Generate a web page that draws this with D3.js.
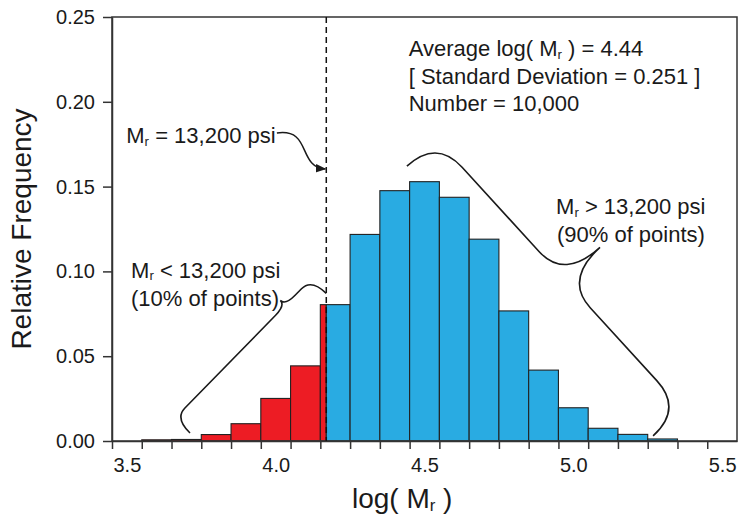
<!DOCTYPE html>
<html>
<head>
<meta charset="utf-8">
<script src="https://cdn.jsdelivr.net/npm/d3@7"></script>
<style>
  body { margin: 0; background: #fff; }
  svg text { font-family: "Liberation Sans", Arial, sans-serif; fill: #1a1a1a; }
</style>
</head>
<body>
<svg id="chart" width="740" height="525"></svg>
<script>
"use strict"

// histogram bins (centre of each 0.1 wide bin) and relative frequency
const binCenters = [3.6, 3.7, 3.8, 3.9, 4.0, 4.1, 4.2, 4.3, 4.4, 4.5, 4.6, 4.7, 4.8, 4.9, 5.0, 5.1, 5.2, 5.3];
const relFreq = [0.0007, 0.0009, 0.0038, 0.0102, 0.0251, 0.0443, 0.0804, 0.1218, 0.1476, 0.1529, 0.1437, 0.1190, 0.0767, 0.0418, 0.0196, 0.0075, 0.0039, 0.0012];
const binWidth = 0.1;
const threshold = 4.17;   // Mr = 13,200 psi
const yTicks = [0, 0.05, 0.10, 0.15, 0.20, 0.25];
const xLabels = [3.5, 4.0, 4.5, 5.0, 5.5];
const statLines = ["Average log( M|r| ) = 4.44", "[ Standard Deviation = 0.251 ]", "Number = 10,000"];

const svg = d3.select("#chart");
const margin = { top: 17, right: 3, bottom: 84, left: 112 };
const width = +svg.attr("width");
const height = +svg.attr("height");

let x = d3.scaleLinear().domain([3.45, 5.55]).range([margin.left, width - margin.right]);
let y = d3.scaleLinear().domain([0, 0.25]).range([height - margin.bottom, margin.top]);

// split bins at the threshold -> red below, blue above
let segs = [];
binCenters.forEach(function (c, i) {
    let x0 = c - binWidth / 2, x1 = c + binWidth / 2;
    if (x1 <= threshold) segs.push({ x0: x0, x1: x1, v: relFreq[i], low: true });
    else if (x0 >= threshold) segs.push({ x0: x0, x1: x1, v: relFreq[i], low: false });
    else {
        segs.push({ x0: x0, x1: threshold, v: relFreq[i], low: true });
        segs.push({ x0: threshold, x1: x1, v: relFreq[i], low: false });
    }
});

svg.append("g").selectAll("rect")
    .data(segs)
    .enter().append("rect")
    .attr("x", function (d) { return x(d.x0); })
    .attr("y", function (d) { return y(d.v); })
    .attr("width", function (d) { return x(d.x1) - x(d.x0); })
    .attr("height", function (d) { return y(0) - y(d.v); })
    .attr("fill", function (d) { return d.low ? "#ed1c24" : "#29abe2"; })
    .attr("stroke", "#222")
    .attr("stroke-width", 1.1);

// frame
svg.append("rect")
    .attr("x", x(3.45)).attr("y", y(0.25))
    .attr("width", x(5.55) - x(3.45)).attr("height", y(0) - y(0.25))
    .attr("fill", "none").attr("stroke", "#333").attr("stroke-width", 1.5);

// axes
let edges = d3.range(3.45, 5.46, 0.1);
let xAxis = svg.append("g")
    .attr("transform", "translate(0," + y(0) + ")")
    .call(d3.axisBottom(x).tickValues(edges).tickFormat("").tickSize(8).tickSizeOuter(0));
let xLab = svg.append("g")
    .attr("transform", "translate(0," + y(0) + ")")
    .call(d3.axisBottom(x).tickValues(xLabels).tickFormat(d3.format(".1f")).tickSize(0).tickPadding(17));
xLab.select(".domain").remove();
let yAxis = svg.append("g")
    .attr("transform", "translate(" + x(3.45) + ",0)")
    .call(d3.axisLeft(y).tickValues(yTicks).tickFormat(d3.format(".2f")).tickSize(9).tickSizeOuter(0).tickPadding(8));

[xAxis, yAxis].forEach(function (g) {
    g.selectAll("path, line").attr("stroke", "#333").attr("stroke-width", 1.5);
});
svg.selectAll(".tick text").attr("font-size", 20).attr("fill", "#1a1a1a")
    .style("font-family", "'Liberation Sans', Arial, sans-serif");

// threshold line
svg.append("line")
    .attr("x1", x(threshold)).attr("x2", x(threshold))
    .attr("y1", y(0.25)).attr("y2", y(0))
    .attr("stroke", "#111").attr("stroke-width", 1.5)
    .attr("stroke-dasharray", "6,4");

// text with "M|r|" style subscripts
function richText(sel, str) {
    let parts = str.split("|");
    parts.forEach(function (p, i) {
        if (i % 2 === 1) {
            sel.append("tspan").attr("font-size", "0.6em").attr("dy", "0.2em").text(p);
        } else {
            let t = sel.append("tspan").text(p);
            if (i > 0) t.attr("dy", "-0.12em");
        }
    });
}

function label(px, py, str, size, anchor) {
    let t = svg.append("text")
        .attr("x", px).attr("y", py)
        .attr("font-size", size)
        .attr("text-anchor", anchor || "start");
    richText(t, str);
    return t;
}

statLines.forEach(function (s, i) {
    label(x(4.447), y(0.25) + 39 + i * 27.5, s, 22);
});
label(x(3.498), y(0.1757), "M|r| = 13,200 psi", 22);
label(x(3.514), y(0.0962), "M|r| < 13,200 psi", 22);
label(x(3.514), y(0.0795), "(10% of points)", 22);
label(x(4.942), y(0.1338), "M|r| > 13,200 psi", 22);
label(x(4.945), y(0.1173), "(90% of points)", 22);

// axis titles
let xt = svg.append("text")
    .attr("x", x(4.425)).attr("y", height - 17)
    .attr("font-size", 28).attr("text-anchor", "middle");
richText(xt, "log( M|r| )");

svg.append("text")
    .attr("transform", "translate(31," + y(0.125) + ") rotate(-90)")
    .attr("font-size", 28).attr("text-anchor", "middle")
    .text("Relative Frequency");

// curly braces, given ends in data units
function bracePath(a, b, h, h2, tipU, r) {
    let ax = x(a[0]), ay = y(a[1]), bx = x(b[0]), by = y(b[1]);
    let L = Math.hypot(bx - ax, by - ay);
    let ux = (bx - ax) / L, uy = (by - ay) / L;
    let nx = uy, ny = -ux;
    function p(u, v) { return [ax + ux * u + nx * v, ay + uy * u + ny * v].map(function (d) { return d.toFixed(1); }).join(","); }
    return "M" + p(0, 0) +
        "Q" + p(0, h) + " " + p(r, h) +
        "L" + p(tipU - r, h) +
        "Q" + p(tipU, h) + " " + p(tipU, h2) +
        "Q" + p(tipU, h) + " " + p(tipU + r, h) +
        "L" + p(L - r, h) +
        "Q" + p(L, h) + " " + p(L, 0);
}

svg.append("path")
    .attr("d", bracePath([3.712, 0.0047], [threshold, 0.087], 21, 28, 158, 14))
    .attr("fill", "none").attr("stroke", "#1a1a1a").attr("stroke-width", 1.6);

svg.append("path")
    .attr("d", bracePath([4.441, 0.162], [5.268, 0.003], 40, 88, 190, 38))
    .attr("fill", "none").attr("stroke", "#1a1a1a").attr("stroke-width", 1.6);

// pointer arrow to the threshold line
svg.append("defs").append("marker")
    .attr("id", "arrow")
    .attr("viewBox", "0 0 10 10")
    .attr("refX", 9).attr("refY", 5)
    .attr("markerWidth", 7).attr("markerHeight", 7)
    .attr("orient", "auto")
    .append("path").attr("d", "M0,1 L10,5 L0,9 z").attr("fill", "#1a1a1a");

let s0 = [x(4.004), y(0.1816)], s1 = [x(threshold) - 1, y(0.1604)];
svg.append("path")
    .attr("d", "M" + s0 + "C" + [s0[0] + 35, s0[1] - 5] + " " + [s1[0] - 28, s1[1] - 2] + " " + s1)
    .attr("fill", "none").attr("stroke", "#1a1a1a").attr("stroke-width", 1.5)
    .attr("marker-end", "url(#arrow)");
</script>
</body>
</html>
